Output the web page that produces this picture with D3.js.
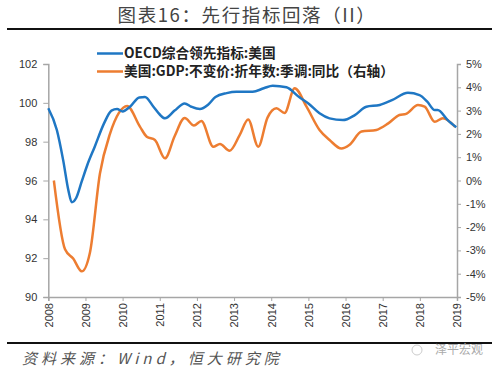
<!DOCTYPE html>
<html><head><meta charset="utf-8">
<script src="https://cdn.jsdelivr.net/npm/d3@7"></script>
<style>
body{margin:0;background:#fff;}
svg{display:block;}
</style></head>
<body>
<svg id="c" width="500" height="374"></svg>
<script>
const title = "图表16：先行指标回落（II）";
const source = "资料来源：Wind，恒大研究院";
const legendNames = ["OECD综合领先指标:美国", "美国:GDP:不变价:折年数:季调:同比（右轴）"];
const xTicks = [2008,2009,2010,2011,2012,2013,2014,2015,2016,2017,2018,2019];
const leftTicks = [90,92,94,96,98,100,102];
const rightTicks = [-5,-4,-3,-2,-1,0,1,2,3,4,5];

const oecdX = [2008.0,2008.23,2008.4,2008.54,2008.63,2008.75,2008.9,2009.05,2009.25,2009.5,2009.7,2009.85,2010.0,2010.2,2010.45,2010.6,2010.83,2011.0,2011.14,2011.4,2011.67,2011.85,2012.08,2012.3,2012.5,2012.8,2013.06,2013.5,2013.8,2014.04,2014.41,2014.75,2015.0,2015.3,2015.57,2015.93,2016.25,2016.56,2016.92,2017.25,2017.68,2017.99,2018.2,2018.4,2018.48,2018.75,2018.98];
const oecdY = [99.72,98.6,97.05,95.5,94.88,95.1,95.95,96.8,97.74,98.94,99.6,99.68,99.56,99.8,100.28,100.3,99.8,99.4,99.2,99.6,99.97,99.8,99.68,99.9,100.3,100.5,100.57,100.57,100.75,100.88,100.8,100.3,99.97,99.46,99.2,99.11,99.37,99.8,99.89,100.14,100.52,100.4,100.06,99.63,99.63,99.11,98.74];

const gdpX = [2008.15,2008.45,2008.67,2008.9,2009.12,2009.39,2009.66,2009.9,2010.12,2010.47,2010.65,2010.87,2011.14,2011.4,2011.67,2011.92,2012.12,2012.44,2012.62,2012.88,2013.15,2013.38,2013.65,2013.9,2014.14,2014.36,2014.63,2014.95,2015.3,2015.57,2015.89,2016.1,2016.43,2016.83,2017.15,2017.45,2017.63,2017.95,2018.13,2018.4,2018.62,2018.95];
const gdpY = [0.0,-2.95,-3.35,-3.9,-3.1,0.3,2.0,2.9,3.2,2.3,1.88,1.74,0.95,1.9,2.68,2.36,2.55,1.45,1.57,1.28,1.95,2.62,1.45,2.7,3.1,2.9,3.96,3.17,2.17,1.74,1.37,1.52,2.1,2.17,2.45,2.81,2.86,3.24,3.17,2.52,2.67,2.3];

const svg = d3.select("#c");
const L = 48.3, R = 457, T = 64, B = 297;
const x = d3.scaleLinear().domain([2008,2019]).range([L,R]);
const yL = d3.scaleLinear().domain([90,102]).range([B,T]);
const yR = d3.scaleLinear().domain([-5,5]).range([B,T]);

const blue = "#1f77c4", orange = "#ED7D31";

// title
svg.append("text").attr("x",247).attr("y",22).attr("text-anchor","middle")
  .attr("font-family","Noto Sans CJK SC").attr("font-size",18.5).attr("letter-spacing",1.6)
  .attr("fill","#444").text(title);
svg.append("line").attr("x1",7).attr("x2",492).attr("y1",29).attr("y2",29).attr("stroke","#111").attr("stroke-width",2);
svg.append("line").attr("x1",7).attr("x2",492).attr("y1",343).attr("y2",343).attr("stroke","#111").attr("stroke-width",2);

// axes
const axL = svg.append("g").attr("transform",`translate(${L},0)`)
  .call(d3.axisLeft(yL).tickValues(leftTicks).tickSize(5).tickPadding(6));
const axR = svg.append("g").attr("transform",`translate(${R},0)`)
  .call(d3.axisRight(yR).tickValues(rightTicks).tickSize(4).tickPadding(5).tickFormat(d=>d+"%"));
const axB = svg.append("g").attr("transform",`translate(0,${B})`)
  .call(d3.axisBottom(x).tickValues(xTicks).tickSize(4).tickFormat(d3.format("d")));
[axL,axR,axB].forEach(g=>{
  g.select(".domain").attr("stroke","#a6a6a6").attr("stroke-width",1.5);
  g.selectAll(".tick line").attr("stroke","#a6a6a6");
  g.selectAll("text").attr("font-family","Liberation Sans, Arial").attr("font-size",11).attr("fill","#333");
});
axB.selectAll(".tick text").attr("text-anchor","end")
  .attr("dx","-6").attr("y",0).attr("x",0).attr("dy","0.35em")
  .attr("transform","rotate(-90)");

// lines
const lineL = d3.line().x(d=>x(d[0])).y(d=>yL(d[1])).curve(d3.curveMonotoneX);
const lineR = d3.line().x(d=>x(d[0])).y(d=>yR(d[1])).curve(d3.curveMonotoneX);
svg.append("path").datum(gdpX.map((v,i)=>[v,gdpY[i]])).attr("d",lineR)
  .attr("fill","none").attr("stroke",orange).attr("stroke-width",2.5);
svg.append("path").datum(oecdX.map((v,i)=>[v,oecdY[i]])).attr("d",lineL)
  .attr("fill","none").attr("stroke",blue).attr("stroke-width",2.5);

// legend
const leg = [[blue,53.5],[orange,71.5]];
leg.forEach((l,i)=>{
  svg.append("line").attr("x1",97).attr("x2",123).attr("y1",l[1]).attr("y2",l[1]).attr("stroke",l[0]).attr("stroke-width",2.5);
  svg.append("text").attr("x",124).attr("y",l[1]+4.8).attr("font-family","Noto Sans CJK SC")
    .attr("font-weight","bold").attr("font-size",13.7).attr("fill","#222").text(legendNames[i]);
});

// source
svg.append("text").attr("x",22).attr("y",364).attr("font-family","Noto Sans CJK SC")
  .attr("font-size",15).attr("font-style","italic").attr("letter-spacing",4).attr("fill","#555").text(source);
svg.append("circle").attr("cx",417).attr("cy",350).attr("r",5).attr("fill","none").attr("stroke","#ccc");
svg.append("text").attr("x",435).attr("y",354).attr("font-family","Noto Sans CJK SC")
  .attr("font-size",12).attr("fill","#aaa").text("泽平宏观");
</script>
</body></html>
